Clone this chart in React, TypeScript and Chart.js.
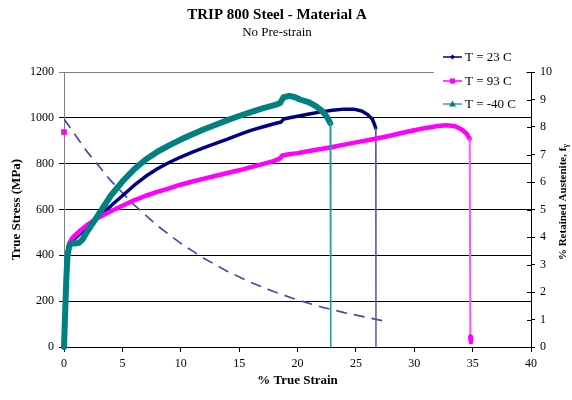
import React, { useEffect, useRef } from "react";
import { Chart, registerables } from "chart.js";

Chart.register(...registerables);

const FONT = '"Liberation Serif", "Times New Roman", Times, serif';

// T = 23 C (navy)
const strain23 = [0, 0.1, 0.2, 0.3, 0.4, 0.6, 1.0, 1.5, 2.0, 2.5, 3, 4, 5, 6, 7, 8, 9, 10, 11, 12, 13, 14, 15, 16, 17, 18, 18.6, 18.8, 20, 21, 22, 23, 24, 24.8, 25.5, 26, 26.4, 26.6, 26.7, 26.72];
const stress23 = [0, 150, 300, 400, 440, 458, 476, 500, 525, 550, 572, 615, 660, 705, 745, 778, 805, 829, 850, 870, 889, 907, 927, 945, 960, 974, 982, 995, 1007, 1017, 1026, 1033, 1038, 1038, 1030, 1015, 995, 970, 955, 0];

// T = 93 C (magenta) — first point is an isolated marker
const strain93 = [0, 0, 0, 0.1, 0.2, 0.3, 0.45, 0.7, 1, 1.5, 2, 2.5, 3, 4, 5, 6, 7, 8, 9, 9.9, 11, 12, 13, 14, 15, 16, 17, 18, 18.5, 18.7, 19, 20, 21, 22, 23, 24, 25, 26, 27, 28, 29, 30, 31, 32, 32.8, 33.5, 34.1, 34.5, 34.75, 34.8, 34.85];
const stress93 = [938, null, 0, 150, 300, 410, 452, 475, 490, 513, 533, 550, 566, 592, 616, 640, 660, 677, 692, 707, 722, 735, 747, 759, 771, 785, 798, 812, 823, 836, 839, 846, 855, 864, 873, 883, 893, 902, 912, 923, 935, 946, 956, 964, 968, 963, 948, 930, 908, 45, 22];

// T = -40 C (teal)
const strainM40 = [0, 0.1, 0.2, 0.3, 0.45, 0.6, 1.0, 1.3, 1.6, 2.0, 2.5, 3, 4, 5, 6, 7, 8, 9, 10, 11, 12, 13, 14, 15, 16, 17, 18, 18.5, 18.8, 19.3, 19.8, 20.2, 21, 21.6, 22.1, 22.5, 22.8, 22.85];
const stressM40 = [0, 150, 300, 400, 440, 452, 452, 455, 470, 505, 543, 582, 660, 722, 775, 818, 852, 880, 905, 928, 950, 970, 990, 1008, 1025, 1041, 1055, 1064, 1090, 1096, 1090, 1080, 1067, 1050, 1030, 1005, 977, 0];

// Retained austenite (right axis, dashed)
const strainRA = [0, 2, 4, 6, 8, 10, 12, 14, 16, 18, 20, 22, 24, 26, 27.6];
const retainedRA = [8.29, 7.09, 6.05, 5.17, 4.41, 3.77, 3.22, 2.75, 2.35, 2.01, 1.71, 1.46, 1.25, 1.07, 0.93];

const legendLabels = ["T = 23 C", "T = 93 C", "T = -40 C"];
const legendColors = ["#000080", "#ff00ff", "#008080"];

function pts(xs: number[], ys: (number | null)[]) {
  return xs.map((x, i) => ({ x, y: ys[i] }));
}

const dropSeg = (thin: number, color: string) => ({
  borderWidth: (c: any) => (c.p0.parsed.y - c.p1.parsed.y > 300 ? thin : undefined),
  borderColor: (c: any) => (c.p0.parsed.y - c.p1.parsed.y > 300 ? color : undefined),
});

const decor = {
  id: "decor",
  afterDraw(chart: any) {
    const ctx = chart.ctx;
    const y2 = chart.scales.y2;
    ctx.save();
    // inner half of right axis ticks
    ctx.strokeStyle = "#000";
    ctx.lineWidth = 1;
    for (let v = 0; v <= 10; v++) {
      const py = Math.round(y2.getPixelForValue(v)) + 0.5;
      ctx.beginPath();
      ctx.moveTo(y2.left - 4, py);
      ctx.lineTo(y2.left, py);
      ctx.stroke();
    }
    // titles
    ctx.fillStyle = "#000";
    ctx.textAlign = "center";
    ctx.textBaseline = "middle";
    ctx.font = `bold 15px ${FONT}`;
    ctx.fillText("TRIP 800 Steel - Material A", 277, 15);
    ctx.font = `13px ${FONT}`;
    ctx.fillText("No Pre-strain", 277, 33);
    // right axis title (reads bottom to top)
    ctx.save();
    ctx.translate(563, 202);
    ctx.rotate(-Math.PI / 2);
    ctx.font = `bold 11px ${FONT}`;
    const main = "% Retained Austenite, f";
    const w1 = ctx.measureText(main).width;
    ctx.font = `bold 8px ${FONT}`;
    const w2 = ctx.measureText("γ").width;
    const start = -(w1 + w2) / 2;
    ctx.textAlign = "left";
    ctx.font = `bold 11px ${FONT}`;
    ctx.fillText(main, start, 0);
    ctx.font = `bold 8px ${FONT}`;
    ctx.fillText("γ", start + w1, 3);
    ctx.restore();
    // legend
    ctx.fillStyle = "#fff";
    ctx.fillRect(434, 44, 92, 70);
    const ys = [57, 81, 104];
    ctx.textAlign = "left";
    ctx.textBaseline = "middle";
    ctx.font = `13px ${FONT}`;
    for (let i = 0; i < 3; i++) {
      const y = ys[i];
      const col = legendColors[i];
      ctx.strokeStyle = i === 2 ? "#40a0a0" : col;
      ctx.lineWidth = 1.5;
      ctx.beginPath();
      ctx.moveTo(443, y);
      ctx.lineTo(462, y);
      ctx.stroke();
      ctx.fillStyle = col;
      ctx.beginPath();
      if (i === 0) {
        ctx.moveTo(452.5, y - 2.5);
        ctx.lineTo(455, y);
        ctx.lineTo(452.5, y + 2.5);
        ctx.lineTo(450, y);
      } else if (i === 1) {
        ctx.rect(450, y - 2.5, 5, 5);
      } else {
        ctx.moveTo(452.5, y - 3.5);
        ctx.lineTo(456, y + 2.5);
        ctx.lineTo(449, y + 2.5);
      }
      ctx.closePath();
      ctx.fill();
      ctx.fillStyle = "#000";
      ctx.fillText(legendLabels[i], 465, y + 1);
    }
    ctx.restore();
  },
};

export default function App() {
  const ref = useRef<HTMLCanvasElement | null>(null);
  useEffect(() => {
    document.body.style.margin = "0";
    const canvas = ref.current!;
    const tickFont = { family: FONT, size: 12 };
    const titleFont = { family: FONT, size: 13, weight: "bold" as const };
    const plain = (v: any) => String(v);
    const clip = { left: 6, top: 0, right: 0, bottom: 4 };
    const chart = new Chart(canvas, {
      type: "scatter",
      data: {
        datasets: [
          {
            label: legendLabels[2],
            data: pts(strainM40, stressM40),
            showLine: true,
            clip,
            borderColor: "#008080",
            backgroundColor: "#008080",
            borderWidth: 6,
            pointRadius: 0,
            borderJoinStyle: "round",
            borderCapStyle: "round",
            order: 0,
            yAxisID: "y",
            segment: dropSeg(1.5, "#2a9a9a"),
          },
          {
            label: legendLabels[1],
            data: pts(strain93, stress93),
            showLine: true,
            clip,
            spanGaps: false,
            borderColor: "#ff00ff",
            backgroundColor: "#ff00ff",
            borderWidth: 4.5,
            pointStyle: "rect",
            pointBorderWidth: 0,
            pointRadius: (c: any) => (c.dataIndex === 0 ? 4 : c.dataIndex >= strain93.length - 2 ? 2.4 : 0),
            borderJoinStyle: "round",
            borderCapStyle: "round",
            order: 1,
            yAxisID: "y",
            segment: dropSeg(2, "#ff55ff"),
          },
          {
            label: legendLabels[0],
            data: pts(strain23, stress23),
            showLine: true,
            clip,
            borderColor: "#000080",
            backgroundColor: "#000080",
            borderWidth: 3.5,
            pointRadius: 0,
            borderJoinStyle: "round",
            borderCapStyle: "round",
            order: 2,
            yAxisID: "y",
            segment: dropSeg(1.5, "#5a5ab0"),
          },
          {
            label: "Retained Austenite",
            data: pts(strainRA, retainedRA),
            showLine: true,
            borderColor: "#4a4aa6",
            borderWidth: 1.7,
            borderDash: [11, 7],
            pointRadius: 0,
            order: 3,
            yAxisID: "y2",
          },
        ],
      },
      options: {
        animation: false,
        responsive: false,
        devicePixelRatio: 1,
        layout: { padding: { top: 72, left: 0, right: 0, bottom: 0 } },
        plugins: {
          legend: { display: false },
          tooltip: { enabled: false },
          title: { display: false },
        },
        scales: {
          x: {
            type: "linear",
            position: "bottom",
            min: 0,
            max: 40,
            ticks: { stepSize: 5, color: "#000", font: tickFont, padding: 5, maxRotation: 0, callback: plain },
            grid: { drawOnChartArea: false, drawTicks: true, tickLength: 5, color: "#000" },
            border: { color: "#000", width: 1 },
            title: {
              display: true,
              text: "% True Strain",
              color: "#000",
              font: titleFont,
              padding: { top: 0, bottom: 12 },
            },
            afterFit: (s: any) => {
              s.height = 53;
            },
          },
          y: {
            type: "linear",
            position: "left",
            min: 0,
            max: 1200,
            ticks: { stepSize: 200, color: "#000", font: tickFont, padding: 5, callback: plain },
            grid: {
              color: (c: any) => (c.tick && c.tick.value === 1200 ? "#808080" : "#000"),
              tickLength: 5,
              lineWidth: 1,
            },
            border: { color: "#808080", width: 1 },
            title: {
              display: true,
              text: "True Stress (MPa)",
              color: "#000",
              font: titleFont,
              padding: { top: 9, bottom: 0 },
            },
            afterFit: (s: any) => {
              s.width = 64;
            },
          },
          y2: {
            type: "linear",
            position: "right",
            min: 0,
            max: 10,
            ticks: { stepSize: 1, color: "#000", font: tickFont, padding: 5, callback: plain },
            grid: { drawOnChartArea: false, drawTicks: true, tickLength: 4, color: "#000" },
            border: { color: "#000", width: 1 },
            afterFit: (s: any) => {
              s.width = 41;
            },
          },
        },
      },
      plugins: [decor],
    } as any);
    return () => chart.destroy();
  }, []);
  return (
    <div style={{ width: 572, height: 400 }}>
      <canvas ref={ref} width={572} height={400} style={{ display: "block" }} />
    </div>
  );
}
